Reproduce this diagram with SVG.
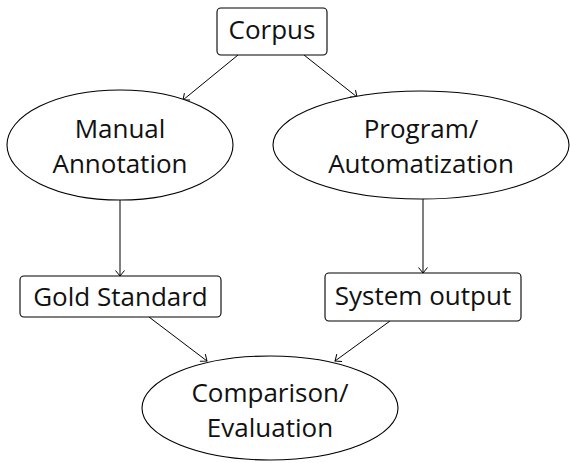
<svg xmlns="http://www.w3.org/2000/svg" width="570" height="463" viewBox="0 0 570 463">
<defs>
<marker id="arr" markerUnits="userSpaceOnUse" markerWidth="14" markerHeight="14" refX="7" refY="7" orient="auto">
<path d="M 1.5 2.5 L 7 7 L 1.5 11.5" fill="none" stroke="#000" stroke-width="1"/>
</marker>
</defs>
<style>
.box{fill:#fff;stroke:#000;stroke-width:1.1}
.lbl{font-family:"Open Sans","Liberation Sans",sans-serif;font-size:26px;fill:#111;text-anchor:middle}
.edge{stroke:#000;stroke-width:1;fill:none;marker-end:url(#arr)}
</style>
<rect width="570" height="463" fill="#fff"/>
<g id="connectors">
<line class="edge" x1="238" y1="55" x2="183" y2="100"/>
<line class="edge" x1="304" y1="55" x2="357" y2="97"/>
<line class="edge" x1="120" y1="200" x2="120" y2="276"/>
<line class="edge" x1="423" y1="199" x2="423" y2="273"/>
<line class="edge" x1="149" y1="317" x2="207" y2="361"/>
<line class="edge" x1="390" y1="321" x2="335" y2="361"/>
</g>
<g id="corpus">
<rect class="box" x="217" y="8" width="110" height="47" rx="4"/>
<text class="lbl" x="272" y="39">Corpus</text>
</g>
<g id="manual">
<ellipse class="box" cx="120" cy="145" rx="113" ry="55"/>
<text class="lbl" x="120" y="138">Manual</text>
<text class="lbl" x="120" y="173">Annotation</text>
</g>
<g id="program">
<ellipse class="box" cx="421" cy="145" rx="148" ry="54"/>
<text class="lbl" x="421" y="138">Program/</text>
<text class="lbl" x="421" y="173">Automatization</text>
</g>
<g id="gold">
<rect class="box" x="20" y="276" width="201" height="41" rx="4"/>
<text class="lbl" x="120.5" y="306">Gold Standard</text>
</g>
<g id="system">
<rect class="box" x="325" y="273" width="196" height="48" rx="4"/>
<text class="lbl" x="423" y="305">System output</text>
</g>
<g id="comparison">
<ellipse class="box" cx="270" cy="408" rx="128" ry="52"/>
<text class="lbl" x="270" y="402">Comparison/</text>
<text class="lbl" x="270" y="437">Evaluation</text>
</g>
</svg>
